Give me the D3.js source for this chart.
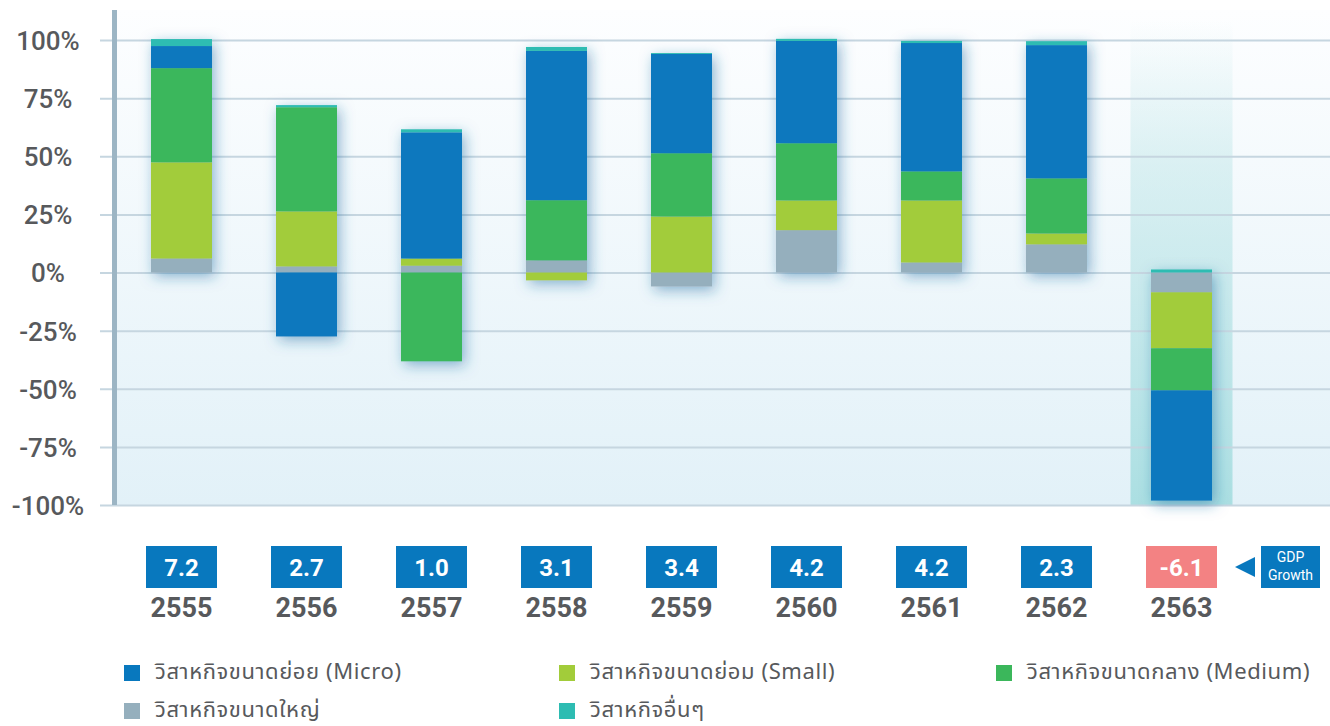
<!DOCTYPE html>
<html>
<head>
<meta charset="utf-8">
<script src="https://cdn.jsdelivr.net/npm/d3@7"></script>
<style>
  body { margin: 0; background: #fff; }
  svg { display: block; }
  text { font-family: Roboto, "Noto Sans", sans-serif; }
  .legend text { font-family: "Noto Sans Thai", "Noto Sans", Roboto, sans-serif; }
</style>
</head>
<body>
<svg id="chart"></svg>
<script>
// data
var years = ["2555", "2556", "2557", "2558", "2559", "2560", "2561", "2562", "2563"];
var gdpGrowth = [7.2, 2.7, 1.0, 3.1, 3.4, 4.2, 4.2, 2.3, -6.1];
var large  = [6.0, 2.6, 2.9, 5.2, -6.0, 18.2, 4.3, 12.1, -8.5];
var small  = [41.4, 23.7, 3.1, -3.4, 24.1, 12.8, 26.7, 4.7, -24.1];
var medium = [40.5, 44.8, -38.2, 25.9, 27.2, 24.6, 12.5, 23.7, -18.1];
var micro  = [9.5, -27.5, 54.3, 64.2, 42.7, 44.0, 55.2, 57.3, -47.4];
var other  = [3.0, 0.9, 1.3, 1.7, 0.4, 0.9, 0.9, 1.7, 1.3];
var yTicks = [-100, -75, -50, -25, 0, 25, 50, 75, 100];

var seriesKeys = ["large", "small", "medium", "micro", "other"];
var colors = {
    micro: "#0878be", small: "#a2cc3a", medium: "#3bb75b",
    large: "#95afbd", other: "#2dbcb2"
};
var legendItems = [
    {key: "micro", label: "วิสาหกิจขนาดย่อย (Micro)"},
    {key: "small", label: "วิสาหกิจขนาดย่อม (Small)"},
    {key: "medium", label: "วิสาหกิจขนาดกลาง (Medium)"},
    {key: "large", label: "วิสาหกิจขนาดใหญ่"},
    {key: "other", label: "วิสาหกิจอื่นๆ"}
];

var W = 1330, H = 726;
var svg = d3.select("#chart").attr("width", W).attr("height", H);

var rows = years.map(function(yr, i) {
    return {year: yr, large: large[i], small: small[i], medium: medium[i], micro: micro[i], other: other[i]};
});

// scales
var x = d3.scaleBand()
    .domain(years)
    .range([119, 1244])
    .paddingInner(0.512)
    .paddingOuter(0.256);
var y = d3.scaleLinear()
    .domain([-100, 100])
    .range([505, 40]);

var defs = svg.append("defs");
var bg = defs.append("linearGradient").attr("id", "bgGrad")
    .attr("x1", 0).attr("y1", 0).attr("x2", 0).attr("y2", 1);
bg.append("stop").attr("offset", "0%").attr("stop-color", "#fdfeff");
bg.append("stop").attr("offset", "100%").attr("stop-color", "#e2f1f8");

var hl = defs.append("linearGradient").attr("id", "hlGrad")
    .attr("x1", 0).attr("y1", 0).attr("x2", 0).attr("y2", 1);
hl.append("stop").attr("offset", "0%").attr("stop-color", "#bfe6e8").attr("stop-opacity", 0);
hl.append("stop").attr("offset", "30%").attr("stop-color", "#bfe6e8").attr("stop-opacity", 0.5);
hl.append("stop").attr("offset", "100%").attr("stop-color", "#abdfe2").attr("stop-opacity", 1);

var shadow = defs.append("filter").attr("id", "barShadow")
    .attr("x", "-40%").attr("y", "-20%").attr("width", "180%").attr("height", "140%");
shadow.append("feDropShadow")
    .attr("dx", 3).attr("dy", 4).attr("stdDeviation", 7)
    .attr("flood-color", "#1c6da3").attr("flood-opacity", 0.5);

// plot background
svg.append("rect")
    .attr("x", 115).attr("y", 10)
    .attr("width", W - 115).attr("height", 495)
    .attr("fill", "url(#bgGrad)");

// highlight for the last year
var lastYear = years[years.length - 1];
var hlWidth = 102;
svg.append("rect")
    .attr("x", x(lastYear) + x.bandwidth() / 2 - hlWidth / 2)
    .attr("y", 20)
    .attr("width", hlWidth)
    .attr("height", 485)
    .attr("fill", "url(#hlGrad)");

// gridlines
svg.append("g")
    .attr("class", "grid")
    .attr("transform", "translate(100,0)")
    .call(d3.axisRight(y).tickValues(yTicks).tickSize(W - 100).tickFormat(""))
    .call(function(g) {
        g.select(".domain").remove();
        g.selectAll("line").attr("stroke", "#c6d6e0").attr("stroke-width", 2);
    });

// y labels
svg.append("g")
    .attr("transform", "translate(48,0)")
    .call(d3.axisLeft(y).tickValues(yTicks).tickSize(0).tickFormat(function(d) { return d + "%"; }))
    .call(function(g) {
        g.select(".domain").remove();
        g.selectAll("text")
            .attr("x", 0)
            .attr("text-anchor", "middle")
            .attr("dy", "0.36em")
            .attr("fill", "#57595c")
            .style("font-size", "26px")
            .style("font-weight", 500)
            .style("font-family", "Roboto, sans-serif");
    });

// vertical axis bar
svg.append("rect")
    .attr("x", 112).attr("y", 10)
    .attr("width", 5).attr("height", 495)
    .attr("fill", "#9cb5c4");

// stacked bars
var stacked = d3.stack()
    .keys(seriesKeys)
    .offset(d3.stackOffsetDiverging)(rows);

var barsG = svg.append("g").attr("filter", "url(#barShadow)");
barsG.selectAll("g")
    .data(stacked)
    .enter().append("g")
    .attr("fill", function(d) { return colors[d.key]; })
    .selectAll("rect")
    .data(function(d) { return d; })
    .enter().append("rect")
    .attr("x", function(d) { return x(d.data.year); })
    .attr("width", x.bandwidth())
    .attr("y", function(d) { return y(Math.max(d[0], d[1])); })
    .attr("height", function(d) { return Math.abs(y(d[0]) - y(d[1])); });

// GDP growth boxes and years
var boxW = 71, boxH = 42, boxY = 546;
var cats = svg.append("g").selectAll("g")
    .data(years)
    .enter().append("g")
    .attr("transform", function(d) { return "translate(" + (x(d) + x.bandwidth() / 2) + ",0)"; });

cats.append("rect")
    .attr("x", -boxW / 2).attr("y", boxY)
    .attr("width", boxW).attr("height", boxH)
    .attr("fill", function(d, i) { return gdpGrowth[i] < 0 ? "#f38283" : "#0878be"; });

cats.append("text")
    .attr("y", boxY + boxH / 2)
    .attr("dy", "0.36em")
    .attr("text-anchor", "middle")
    .attr("fill", "#fff")
    .style("font-size", "24px")
    .style("font-weight", 700)
    .text(function(d, i) { return gdpGrowth[i].toFixed(1); });

cats.append("text")
    .attr("y", 617)
    .attr("text-anchor", "middle")
    .attr("fill", "#57595c")
    .style("font-size", "27px")
    .style("font-weight", 700)
    .text(function(d) { return d; });

// GDP Growth tag
svg.append("path")
    .attr("d", "M1235,567 L1255,557 L1255,577 Z")
    .attr("fill", "#0878be");
svg.append("rect")
    .attr("x", 1261).attr("y", 546)
    .attr("width", 59).attr("height", 42)
    .attr("fill", "#0878be");
svg.append("text")
    .attr("x", 1290.5).attr("y", 562)
    .attr("text-anchor", "middle")
    .attr("fill", "#fff")
    .style("font-size", "14px")
    .text("GDP");
svg.append("text")
    .attr("x", 1290.5).attr("y", 580)
    .attr("text-anchor", "middle")
    .attr("fill", "#fff")
    .style("font-size", "14px")
    .text("Growth");

// legend
var legendX = [124, 559, 996];
var legendY = [665, 703];
var legend = svg.append("g").attr("class", "legend").selectAll("g")
    .data(legendItems)
    .enter().append("g")
    .attr("transform", function(d, i) {
        return "translate(" + legendX[i % 3] + "," + legendY[Math.floor(i / 3)] + ")";
    });
legend.append("rect")
    .attr("width", 16).attr("height", 16)
    .attr("fill", function(d) { return colors[d.key]; });
legend.append("text")
    .attr("x", 31).attr("y", 14)
    .attr("fill", "#57595c")
    .style("font-size", "22px")
    .style("letter-spacing", "0.6px")
    .text(function(d) { return d.label; });
</script>
</body>
</html>
